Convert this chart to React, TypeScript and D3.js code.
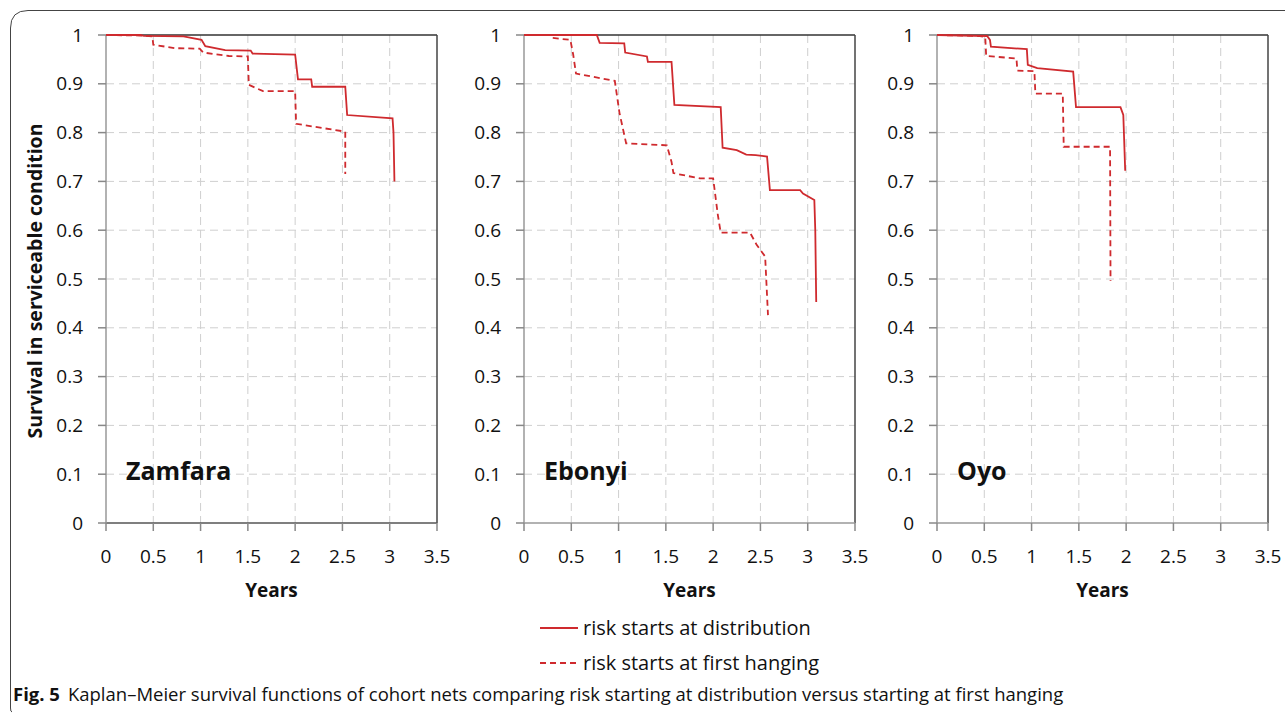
import React from 'react';
import * as d3 from 'd3';

// Kaplan-Meier curves: [years, survival]
const zamfaraDistribution = [[0, 1], [0.36, 1], [0.4, 0.998], [0.82, 0.997], [1.01, 0.99], [1.05, 0.977], [1.26, 0.969], [1.53, 0.968], [1.55, 0.962], [2.0, 0.96], [2.03, 0.909], [2.17, 0.909], [2.18, 0.894], [2.53, 0.894], [2.55, 0.836], [3.03, 0.829], [3.04, 0.8], [3.05, 0.7]];
const zamfaraHanging = [[0, 1], [0.36, 0.999], [0.49, 0.997], [0.5, 0.98], [0.73, 0.973], [0.99, 0.972], [1.03, 0.964], [1.3, 0.957], [1.5, 0.956], [1.51, 0.898], [1.66, 0.885], [2.0, 0.885], [2.01, 0.818], [2.53, 0.802], [2.53, 0.715]];

const ebonyiDistribution = [[0, 1], [0.77, 1], [0.8, 0.984], [1.06, 0.983], [1.07, 0.964], [1.3, 0.956], [1.31, 0.945], [1.56, 0.945], [1.59, 0.857], [2.08, 0.852], [2.1, 0.769], [2.25, 0.764], [2.35, 0.755], [2.45, 0.754], [2.57, 0.751], [2.6, 0.682], [2.92, 0.682], [2.95, 0.675], [3.07, 0.662], [3.08, 0.6], [3.09, 0.453]];
const ebonyiHanging = [[0, 1], [0.27, 1], [0.3, 0.994], [0.49, 0.99], [0.52, 0.96], [0.55, 0.921], [0.96, 0.906], [1.01, 0.84], [1.08, 0.778], [1.51, 0.774], [1.56, 0.74], [1.58, 0.717], [1.86, 0.706], [2.0, 0.706], [2.05, 0.631], [2.08, 0.595], [2.39, 0.595], [2.46, 0.57], [2.55, 0.546], [2.58, 0.426]];

const oyoDistribution = [[0, 1], [0.53, 0.998], [0.56, 0.99], [0.57, 0.976], [0.95, 0.971], [0.96, 0.939], [1.06, 0.932], [1.44, 0.925], [1.47, 0.852], [1.94, 0.852], [1.97, 0.836], [1.99, 0.722]];
const oyoHanging = [[0, 1], [0.44, 0.998], [0.51, 0.996], [0.52, 0.957], [0.84, 0.952], [0.85, 0.927], [1.03, 0.926], [1.04, 0.88], [1.33, 0.88], [1.34, 0.771], [1.83, 0.771], [1.835, 0.496]];

const regions = ['Zamfara', 'Ebonyi', 'Oyo'];
const xTicks = [0, 0.5, 1, 1.5, 2, 2.5, 3, 3.5];
const yTicks = [0, 0.1, 0.2, 0.3, 0.4, 0.5, 0.6, 0.7, 0.8, 0.9, 1];
const legendLabels = ['risk starts at distribution', 'risk starts at first hanging'];

const curves = [
  [zamfaraDistribution, zamfaraHanging],
  [ebonyiDistribution, ebonyiHanging],
  [oyoDistribution, oyoHanging],
];

const RED = '#cf2a2e';
const FONT = '"Open Sans", sans-serif';
const panelLeft = [106, 524, 937];
const panelW = 331;
const top = 35, bottom = 523;

function Panel({ i }: { i: number }) {
  const x = d3.scaleLinear().domain([0, 3.5]).range([panelLeft[i], panelLeft[i] + panelW]);
  const y = d3.scaleLinear().domain([0, 1]).range([bottom, top]);
  const line = d3.line<number[]>().x(d => x(d[0])).y(d => y(d[1]));
  const [solid, dashed] = curves[i];
  const x0 = x(0), x1 = x(3.5);
  return (
    <g>
      {/* grid */}
      {yTicks.filter(t => t > 0 && t < 1).map(t => (
        <line key={'gy' + t} x1={x0} x2={x1} y1={y(t)} y2={y(t)} stroke="#cfcfcf" strokeDasharray="8,5" />
      ))}
      {xTicks.filter(t => t > 0 && t < 3.5).map(t => (
        <line key={'gx' + t} x1={x(t)} x2={x(t)} y1={top} y2={bottom} stroke="#cfcfcf" strokeDasharray="8,5" />
      ))}
      {/* frame */}
      <line x1={x0} x2={x1} y1={top} y2={top} stroke="#333" strokeWidth={1.5} />
      <line x1={x1} x2={x1} y1={top} y2={bottom} stroke="#444" strokeWidth={1.5} />
      <line x1={x0} x2={x1} y1={bottom} y2={bottom} stroke={i === 0 ? '#555' : '#999'} strokeWidth={1.5} />
      <line x1={x0} x2={x0} y1={top} y2={bottom} stroke="#999" strokeWidth={1.5} />
      {/* ticks */}
      {yTicks.map(t => (
        <g key={'ty' + t}>
          <line x1={x0 - 8} x2={x0} y1={y(t)} y2={y(t)} stroke="#888" strokeWidth={1.5} />
          <text x={x0 - 23} y={y(t)} dy="0.35em" textAnchor="end" fontSize={19} fontFamily={FONT} fill="#111">{d3.format('~g')(t)}</text>
        </g>
      ))}
      {xTicks.map(t => (
        <g key={'tx' + t}>
          <line x1={x(t)} x2={x(t)} y1={bottom} y2={bottom + 8} stroke="#888" strokeWidth={1.5} />
          <text x={x(t)} y={556} dy="0.35em" textAnchor="middle" fontSize={19} fontFamily={FONT} fill="#111">{t}</text>
        </g>
      ))}
      <text x={(x0 + x1) / 2} y={590} dy="0.35em" textAnchor="middle" fontSize={19} fontWeight="bold" fontFamily={FONT} fill="#111">Years</text>
      <text x={x0 + 20} y={471} dy="0.35em" fontSize={25} fontWeight="bold" fontFamily={FONT} fill="#111">{regions[i]}</text>
      {/* curves */}
      <path d={line(solid as number[][]) || ''} fill="none" stroke={RED} strokeWidth={1.8} />
      <path d={line(dashed as number[][]) || ''} fill="none" stroke={RED} strokeWidth={1.8} strokeDasharray="6,4" />
    </g>
  );
}

export default function App() {
  return (
    <svg width={1285} height={713} style={{ display: 'block', position: 'absolute', left: 0, top: 0, background: '#fff' }}>
      <path d="M10.5,708 Q10.5,712 12,712 M10.5,708 L10.5,28 Q10.5,10.5 28,10.5 L1285,10.5" fill="none" stroke="#444" strokeWidth={1} />
      {[0, 1, 2].map(i => <Panel key={i} i={i} />)}
      <text transform="translate(35,281) rotate(-90)" textAnchor="middle" dy="0.35em" fontSize={19.5} fontWeight="bold" fontFamily={FONT} fill="#111">Survival in serviceable condition</text>
      {/* legend */}
      <line x1={540} x2={578} y1={628} y2={628} stroke={RED} strokeWidth={1.8} />
      <text x={583} y={628} dy="0.35em" fontSize={20} fontFamily={FONT} fill="#111">{legendLabels[0]}</text>
      <line x1={540} x2={578} y1={663} y2={663} stroke={RED} strokeWidth={1.8} strokeDasharray="6,4" />
      <text x={583} y={663} dy="0.35em" fontSize={20} fontFamily={FONT} fill="#111">{legendLabels[1]}</text>
      <text x={13} y={701} fontSize={18.5} fontFamily={FONT} fill="#111">
        <tspan fontWeight="bold">Fig. 5</tspan>
        <tspan dx={8}>Kaplan–Meier survival functions of cohort nets comparing risk starting at distribution versus starting at first hanging</tspan>
      </text>
    </svg>
  );
}
